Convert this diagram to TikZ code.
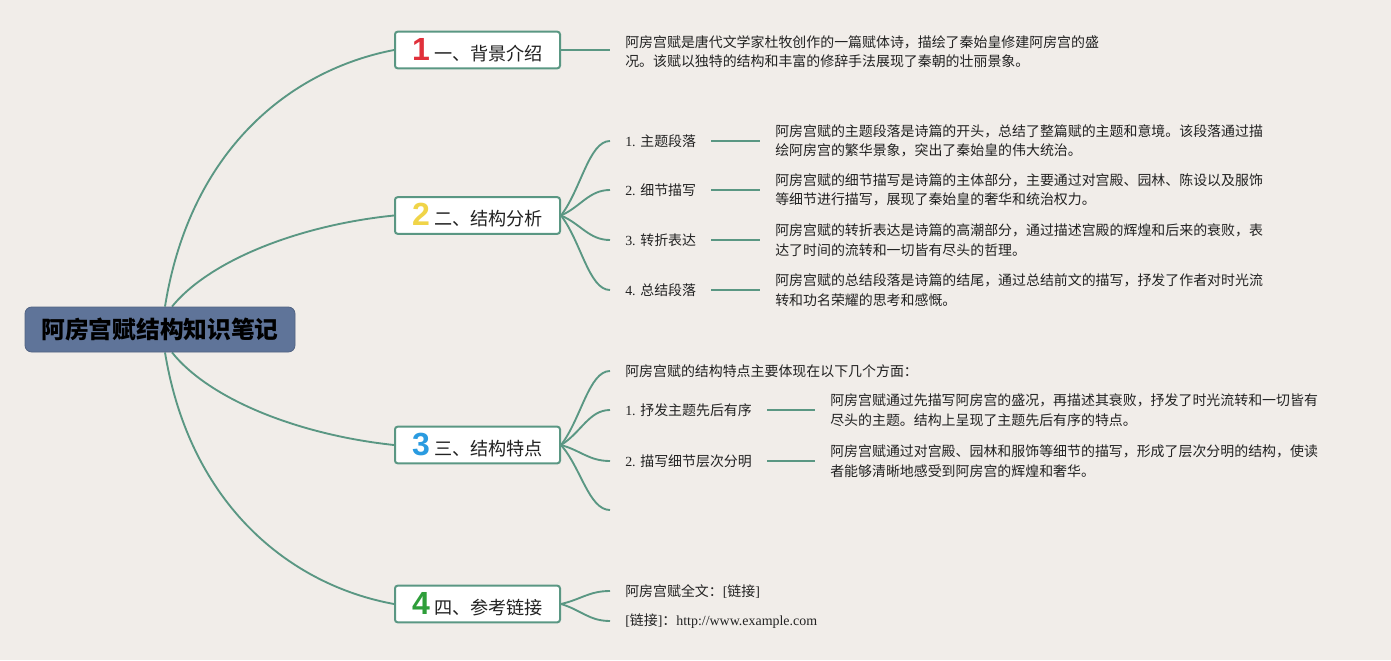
\documentclass[tikz,border=0pt]{standalone}
\usepackage{fontspec}
\setmainfont{Liberation Serif}
\newfontfamily\cjk{Noto Sans CJK SC}
\newfontfamily\numfont{Liberation Sans}
\usetikzlibrary{calc}
\definecolor{bgc}{HTML}{F1EDE9}
\definecolor{teal1}{HTML}{5A9783}
\definecolor{rootc}{HTML}{5F7499}
\definecolor{nred}{HTML}{E0303A}
\definecolor{nyellow}{HTML}{F0D448}
\definecolor{nblue}{HTML}{2A9BE0}
\definecolor{ngreen}{HTML}{2E9E3A}
\definecolor{txt}{HTML}{222222}
\newcommand\tsz{\fontsize{10.45}{14.6}\selectfont}
\newcommand\brl[3]{{\numfont\bfseries\fontsize{24}{24}\selectfont\color{#1}#2}\hspace{3pt}{\cjk\fontsize{13.6}{16}\selectfont #3}}
\newcommand\fanline[2]{\draw[conn] let \p1=(#1), \p2=(#2) in (\p1) .. controls (\x1+15pt,{\y1+0.35*(\y2-\y1)}) and (\x1+21pt,\y2) .. (\p2);}
\pgfdeclarelayer{bg}
\pgfsetlayers{bg,main}
\begin{document}
\begin{tikzpicture}[x=0.75pt,y=-0.75pt,
  conn/.style={draw=teal1,line width=1.4pt},
  rootbox/.style={fill=rootc,draw=rootc!85!black,line width=0.6pt,rounded corners=5pt,minimum width=202.5pt,minimum height=33.75pt,inner sep=0pt,text=black,font=\cjk\bfseries\fontsize{17.8}{20}\selectfont},
  branchbox/.style={fill=white,draw=teal1,line width=1.5pt,rounded corners=2pt,minimum width=123.75pt,minimum height=27.5pt,inner sep=0pt,text=txt},
  child/.style={anchor=west,inner xsep=11.25pt,inner ysep=2pt,text=txt,font=\tsz},
  leaf/.style={anchor=west,inner xsep=11.25pt,inner ysep=2pt,align=left,text=txt,font=\tsz\cjk},
]
\useasboundingbox (0,0) rectangle (1391,660);

\node[rootbox] (root) at (160,329.5) {阿房宫赋结构知识笔记};

\node[branchbox] (b1) at (477.5,50) {\brl{nred}{1}{一、背景介绍}};
\node[branchbox] (b2) at (477.5,215.5) {\brl{nyellow}{2}{二、结构分析}};
\node[branchbox] (b3) at (477.5,445) {\brl{nblue}{3}{三、结构特点}};
\node[branchbox] (b4) at (477.5,604) {\brl{ngreen}{4}{四、参考链接}};

% branch 1
\node[leaf] (l1) at (610,51.5) {阿房宫赋是唐代文学家杜牧创作的一篇赋体诗，描绘了秦始皇修建阿房宫的盛\\况。该赋以独特的结构和丰富的修辞手法展现了秦朝的壮丽景象。};

% branch 2
\node[child] (c21) at (610,141) {1. {\cjk 主题段落}};
\node[child] (c22) at (610,190) {2. {\cjk 细节描写}};
\node[child] (c23) at (610,240) {3. {\cjk 转折表达}};
\node[child] (c24) at (610,290) {4. {\cjk 总结段落}};
\node[leaf] (l21) at (760,141) {阿房宫赋的主题段落是诗篇的开头，总结了整篇赋的主题和意境。该段落通过描\\绘阿房宫的繁华景象，突出了秦始皇的伟大统治。};
\node[leaf] (l22) at (760,190) {阿房宫赋的细节描写是诗篇的主体部分，主要通过对宫殿、园林、陈设以及服饰\\等细节进行描写，展现了秦始皇的奢华和统治权力。};
\node[leaf] (l23) at (760,240) {阿房宫赋的转折表达是诗篇的高潮部分，通过描述宫殿的辉煌和后来的衰败，表\\达了时间的流转和一切皆有尽头的哲理。};
\node[leaf] (l24) at (760,290) {阿房宫赋的总结段落是诗篇的结尾，通过总结前文的描写，抒发了作者对时光流\\转和功名荣耀的思考和感慨。};

% branch 3
\node[child] (c30) at (610,371) {\cjk 阿房宫赋的结构特点主要体现在以下几个方面：};
\node[child] (c31) at (610,410) {1. {\cjk 抒发主题先后有序}};
\node[child] (c32) at (610,461) {2. {\cjk 描写细节层次分明}};
\coordinate (c33) at (610,510);
\node[leaf] (l31) at (815,410) {阿房宫赋通过先描写阿房宫的盛况，再描述其衰败，抒发了时光流转和一切皆有\\尽头的主题。结构上呈现了主题先后有序的特点。};
\node[leaf] (l32) at (815,461) {阿房宫赋通过对宫殿、园林和服饰等细节的描写，形成了层次分明的结构，使读\\者能够清晰地感受到阿房宫的辉煌和奢华。};

% branch 4
\node[child] (c41) at (610,591) {{\cjk 阿房宫赋全文：}[{\cjk 链接}]};
\node[child] (c42) at (610,621) {[{\cjk 链接}]{\cjk ：}http://www.example.com};

\begin{pgfonlayer}{bg}
\fill[bgc] (0,0) rectangle (1391,660);
\draw[conn] ($(root.north)+(5,0)$) .. controls (190,150) and (290,70) .. (b1.west);
\draw[conn] ($(root.north)+(12,0)$) .. controls (210,260) and (300,225) .. (b2.west);
\draw[conn] ($(root.south)+(12,0)$) .. controls (210,400) and (300,435) .. (b3.west);
\draw[conn] ($(root.south)+(5,0)$) .. controls (190,505) and (290,585) .. (b4.west);

\draw[conn] (b1.east) -- (b1.east -| l1.west);

\fanline{b2.east}{c21.west}
\fanline{b2.east}{c22.west}
\fanline{b2.east}{c23.west}
\fanline{b2.east}{c24.west}
\draw[conn] (c21.east) -- (l21.west);
\draw[conn] (c22.east) -- (l22.west);
\draw[conn] (c23.east) -- (l23.west);
\draw[conn] (c24.east) -- (l24.west);

\fanline{b3.east}{c30.west}
\fanline{b3.east}{c31.west}
\fanline{b3.east}{c32.west}
\fanline{b3.east}{c33}
\draw[conn] (c31.east) -- (l31.west);
\draw[conn] (c32.east) -- (l32.west);

\fanline{b4.east}{c41.west}
\fanline{b4.east}{c42.west}
\end{pgfonlayer}
\end{tikzpicture}
\end{document}
